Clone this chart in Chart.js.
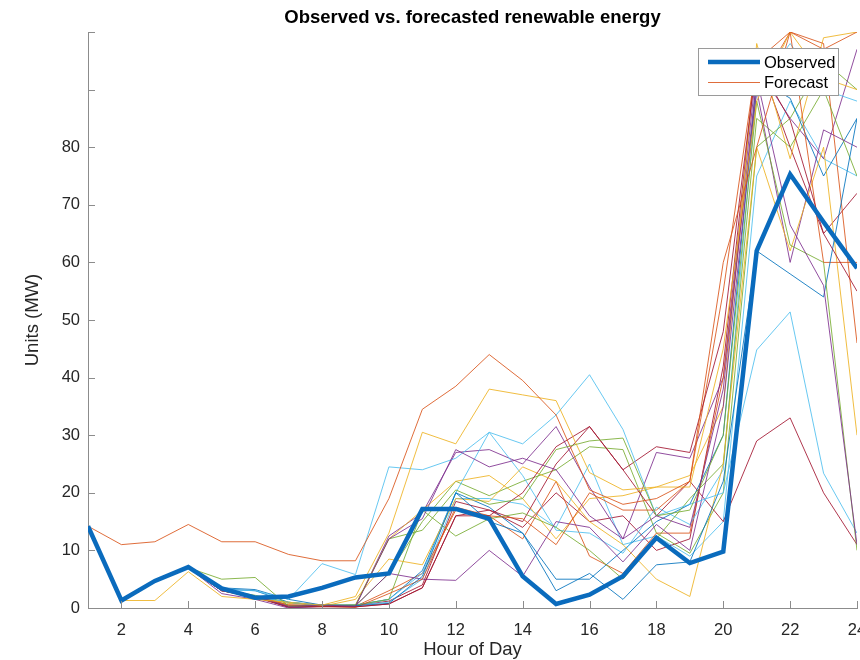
<!DOCTYPE html>
<html>
<head>
<meta charset="utf-8">
<title>Observed vs. forecasted renewable energy</title>
<script src="https://cdn.jsdelivr.net/npm/chart.js@4.4.1/dist/chart.umd.min.js"></script>
<style>
  html, body { margin: 0; padding: 0; background: #fff; }
  canvas { display: block; }
</style>
</head>
<body>
<canvas id="mainChart" width="860" height="660"></canvas>
<script>
// ========== 데이터 ==========
const hours = [1, 2, 3, 4, 5, 6, 7, 8, 9, 10, 11, 12, 13, 14, 15, 16, 17, 18, 19, 20, 21, 22, 23, 24];
const xTicks = [2, 4, 6, 8, 10, 12, 14, 16, 18, 20, 22, 24];
const yTicks = [0, 10, 20, 30, 40, 50, 60, 70, 80, 90, 100];
const yTickLabels = ['0', '10', '20', '30', '40', '50', '60', '70', '80', '', ''];

const observed = [14.2, 1.3, 4.7, 7.1, 3.4, 1.8, 2.0, 3.5, 5.3, 6.0, 17.2, 17.2, 15.5, 5.5, 0.7, 2.3, 5.5, 12.2, 7.8, 9.8, 62.0, 75.3, 67.0, 59.0];

// 예측 결과 (20개)
const fc01 = [14.2, 11, 11.5, 14.5, 11.5, 11.5, 9.3, 8.2, 8.2, 19, 34.5, 38.5, 44, 39.5, 33.5, 20.5, 18, 19, 22, 60, 80, 100, 97, 100];
const fc02 = [14.2, 1.3, 1.3, 6.3, 2, 1.5, 1, 0.5, 2, 13, 30.5, 28.5, 38, 37, 36, 23.5, 20.5, 21, 21, 45, 88, 100, 92, 90];
const fc03 = [14.2, 1.5, 4.5, 7, 3, 2, 0.3, 0.5, 0.3, 12, 15.5, 27.5, 24.5, 26, 24, 16, 12, 16, 14, 38, 92, 66.5, 56, 11];
const fc04 = [14.2, 1.4, 4.7, 7, 5, 5.3, 0.3, 0.5, 0.5, 12, 13.5, 20.5, 18, 19, 27.5, 29, 29.5, 16, 17, 30, 88, 63, 60, 10];
const fc05 = [14.2, 1.3, 4.6, 7, 3.2, 3, 1.5, 7.7, 5.8, 24.5, 24, 26, 30.5, 28.5, 33.5, 40.5, 31, 16, 18, 20, 44.8, 51.4, 23.4, 13];
const fc06 = [14.2, 1.3, 4.5, 7, 3, 2, 0.2, 0.3, 0.2, 0.7, 3.5, 16, 16, 20, 28, 31.5, 24, 28, 27, 48, 95, 84.7, 65, 55];
const fc07 = [14.2, 1.3, 4.6, 7, 3.5, 3.2, 1.5, 0.5, 0.4, 0.8, 5.5, 20, 15, 13, 3, 6, 1.5, 7.5, 8, 22, 62, 58, 54, 85];
const fc08 = [14.2, 1.3, 4.6, 7, 3.5, 2, 0.5, 0.3, 0.1, 2.5, 5, 17.5, 16, 15.5, 11, 20, 17, 17, 22, 55, 95, 100, 60, 60];
const fc09 = [14.2, 1.4, 4.7, 7, 3, 1.8, 0.5, 0.3, 1.5, 8.5, 7.5, 19, 18.5, 24.5, 22, 15, 11, 5, 2, 25, 80, 62, 80, 30];
const fc10 = [14.2, 1.3, 4.5, 7, 2.5, 1.5, 0, 0.3, 0.4, 6, 5, 4.8, 10, 5.5, 15, 14, 8, 14.5, 10, 35, 90, 60, 83, 80];
const fc11 = [14.2, 1.3, 4.6, 7, 3.5, 2, 0.3, 0.3, 0.5, 1.5, 17, 12.5, 15.5, 16.5, 14, 10, 5, 12, 19, 25, 85, 80, 90, 75];
const fc12 = [14.2, 1.3, 4.6, 7, 3, 2, 1, 0.5, 0.5, 1.5, 6, 20, 30.5, 23, 13.5, 13, 9.5, 17.5, 14.5, 24, 90, 98, 90, 88];
const fc13 = [14.2, 1.3, 4.5, 7, 3, 2, 0.1, 0.2, 0.2, 0.7, 3.5, 16, 17, 15, 25, 31.5, 24, 16, 22, 15, 29, 33, 20, 11];
const fc14 = [14.2, 1.3, 4.6, 7, 3.3, 3, 1, 0.5, 0.5, 1.5, 6.5, 20, 17.5, 13, 5, 5, 10, 15, 18, 30, 92, 88.5, 75, 85];
const fc15 = [14.2, 1.3, 4.7, 7, 3.5, 2, 0.5, 0.5, 0.3, 3, 6, 17, 16, 12, 22, 9, 6, 13, 13, 40, 90, 100, 98, 46];
const fc16 = [14.2, 1.3, 4.6, 7, 3, 2, 0.8, 0.5, 0.5, 12, 17, 22, 23, 19, 12, 19, 19.5, 21, 23, 35, 98, 78, 99, 100];
const fc17 = [14.2, 1.3, 4.6, 7, 3, 2, 0.5, 0.3, 0.3, 12.5, 16.5, 27, 27.5, 25, 31.5, 21, 12, 27, 26, 40, 94, 85, 78, 97];
const fc18 = [14.2, 1.3, 4.6, 7, 3.2, 2.2, 1, 0.4, 0.4, 6, 15, 22, 19.5, 22, 24, 28, 27.5, 13, 9.5, 20, 80, 85, 95, 90];
const fc19 = [14.2, 1.3, 4.6, 7, 3, 2, 0.8, 0.5, 0.5, 1, 5, 19, 19, 18, 14, 25, 11, 12.5, 9, 15, 75, 88, 78, 75];
const fc20 = [14.2, 1.3, 4.5, 7, 3, 1.8, 0.2, 0.3, 0.4, 1.2, 4, 18.5, 17, 14, 20, 15, 16, 10, 12, 42, 96, 80, 65, 72];

const forecastRuns = [fc01, fc02, fc03, fc04, fc05, fc06, fc07, fc08, fc09, fc10,
                      fc11, fc12, fc13, fc14, fc15, fc16, fc17, fc18, fc19, fc20];

// MATLAB 기본 색상 순서 (관측값이 첫 번째 파란색 사용)
const observedColor = '#0a6bbd';
const forecastColors = ['rgba(217,83,25,0.85)', 'rgba(237,177,32,0.85)', 'rgba(126,47,142,0.85)',
                        'rgba(119,172,48,0.85)', 'rgba(77,190,238,0.85)', 'rgba(162,20,47,0.85)',
                        'rgba(0,114,189,0.85)'];

const chartTitle = 'Observed vs. forecasted renewable energy';
const axisColor = '#8c8c8c';
const textColor = '#262626';
const fontFamily = '"Liberation Sans", Arial, Helvetica, sans-serif';

// 점 데이터로 변환
function toPoints(values) {
    const pts = [];
    for (let i = 0; i < hours.length; i++) {
        pts.push({ x: hours[i], y: values[i] });
    }
    return pts;
}

// 데이터셋 구성
const datasets = [{
    label: 'Observed',
    data: toPoints(observed),
    borderColor: observedColor,
    borderWidth: 4.5,
    pointRadius: 0,
    tension: 0,
    clip: 0
}];

for (let i = 0; i < forecastRuns.length; i++) {
    datasets.push({
        label: 'Forecast',
        data: toPoints(forecastRuns[i]),
        borderColor: forecastColors[i % forecastColors.length],
        borderWidth: 1,
        pointRadius: 0,
        tension: 0,
        clip: 0
    });
}

// 제목, 안쪽 눈금, 범례 (MATLAB 스타일)
const matlabAxesPlugin = {
    id: 'matlabAxes',
    afterDraw(chart) {
        const ctx = chart.ctx;
        const area = chart.chartArea;
        const xs = chart.scales.x;
        const ys = chart.scales.y;

        ctx.save();

        // 제목 (축 영역 기준 가운데)
        ctx.fillStyle = '#000000';
        ctx.font = 'bold 18.5px ' + fontFamily;
        ctx.textAlign = 'center';
        ctx.textBaseline = 'middle';
        ctx.fillText(chartTitle, (area.left + area.right) / 2, 18);

        // 안쪽 눈금
        ctx.strokeStyle = axisColor;
        ctx.lineWidth = 1;
        ctx.beginPath();
        for (let i = 0; i < xTicks.length; i++) {
            const px = Math.round(xs.getPixelForValue(xTicks[i])) + 0.5;
            ctx.moveTo(px, area.bottom);
            ctx.lineTo(px, area.bottom - 7);
        }
        for (let i = 0; i < yTicks.length; i++) {
            const py = Math.round(ys.getPixelForValue(yTicks[i])) + 0.5;
            ctx.moveTo(area.left, py);
            ctx.lineTo(area.left + 7, py);
        }
        ctx.stroke();

        // 범례 박스
        const bx = 698, by = 48, bw = 140, bh = 47;
        ctx.fillStyle = '#ffffff';
        ctx.fillRect(bx, by, bw, bh);
        ctx.strokeStyle = '#9a9a9a';
        ctx.strokeRect(bx + 0.5, by + 0.5, bw, bh);

        ctx.lineCap = 'butt';
        ctx.strokeStyle = observedColor;
        ctx.lineWidth = 4.5;
        ctx.beginPath();
        ctx.moveTo(708, 62);
        ctx.lineTo(760, 62);
        ctx.stroke();

        ctx.strokeStyle = forecastColors[0];
        ctx.lineWidth = 1;
        ctx.beginPath();
        ctx.moveTo(708, 82.5);
        ctx.lineTo(760, 82.5);
        ctx.stroke();

        ctx.fillStyle = '#000000';
        ctx.font = '16.5px ' + fontFamily;
        ctx.textAlign = 'left';
        ctx.textBaseline = 'middle';
        ctx.fillText('Observed', 764, 63);
        ctx.fillText('Forecast', 764, 83);
        ctx.restore();
    }
};

const ctx = document.getElementById('mainChart');
new Chart(ctx, {
    type: 'line',
    data: { datasets: datasets },
    options: {
        responsive: false,
        animation: false,
        devicePixelRatio: 1,
        layout: { padding: { left: 0, right: 3, top: 32, bottom: 0 } },
        plugins: {
            legend: { display: false },
            tooltip: { enabled: false },
            title: { display: false }
        },
        scales: {
            x: {
                type: 'linear',
                min: 1,
                max: 24,
                afterBuildTicks(scale) {
                    scale.ticks = xTicks.map(v => ({ value: v }));
                },
                afterFit(scale) {
                    scale.height = 52;
                    scale.paddingLeft = 0;
                    scale.paddingRight = 0;
                },
                grid: { display: false, drawTicks: false },
                border: { display: true, color: axisColor, width: 1 },
                ticks: {
                    color: textColor,
                    padding: 13,
                    maxRotation: 0,
                    autoSkip: false,
                    font: { family: fontFamily, size: 16.5 }
                },
                title: {
                    display: true,
                    text: 'Hour of Day',
                    color: textColor,
                    font: { family: fontFamily, size: 18.5 },
                    padding: { top: 0, bottom: -1 }
                }
            },
            y: {
                min: 0,
                max: 100,
                afterBuildTicks(scale) {
                    scale.ticks = yTicks.map(v => ({ value: v }));
                },
                afterFit(scale) {
                    scale.width = 88;
                    scale.paddingTop = 0;
                    scale.paddingBottom = 0;
                },
                grid: { display: false, drawTicks: false },
                border: { display: true, color: axisColor, width: 1 },
                ticks: {
                    color: textColor,
                    padding: 8,
                    autoSkip: false,
                    font: { family: fontFamily, size: 16.5 },
                    callback: (value, index) => yTickLabels[index]
                },
                title: {
                    display: true,
                    text: 'Units (MW)',
                    color: textColor,
                    font: { family: fontFamily, size: 18.5 },
                    padding: { top: 22, bottom: 0 }
                }
            }
        }
    },
    plugins: [matlabAxesPlugin]
});
</script>
</body>
</html>
